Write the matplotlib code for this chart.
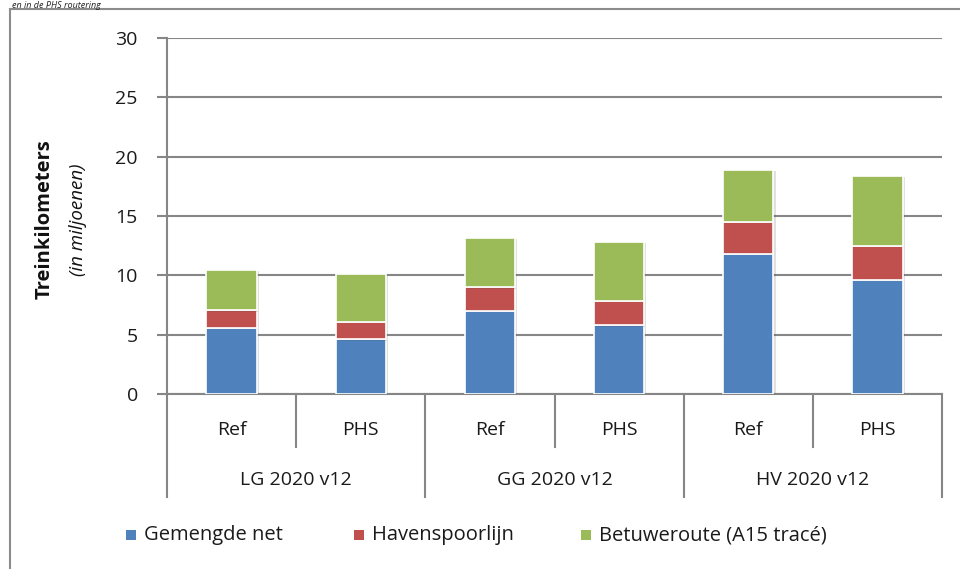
import matplotlib
matplotlib.use("Agg")
import matplotlib.pyplot as plt
from matplotlib.lines import Line2D
from matplotlib.patches import Rectangle
import matplotlib.patheffects as pe
import numpy as np

# ---- data ----
scenarios = ["LG 2020 v12", "GG 2020 v12", "HV 2020 v12"]
variants = ["Ref", "PHS"]
series_names = ["Gemengde net", "Havenspoorlijn", "Betuweroute (A15 tracé)"]
gemengde = [5.6, 4.6, 7.0, 5.8, 11.8, 9.6]
haven = [1.45, 1.5, 2.0, 2.05, 2.7, 2.9]
betuwe = [3.4, 4.0, 4.15, 4.95, 4.4, 5.9]
yticks = [0, 5, 10, 15, 20, 25, 30]

colors = ["#4F81BD", "#C0504D", "#9BBB59"]
grid_col = "#868686"
txt_col = "#1a1a1a"

plt.rcParams['font.family'] = ['Open Sans', 'DejaVu Sans']

W, H = 960, 569
fig = plt.figure(figsize=(W / 100, H / 100), dpi=100)

left, right, y0, y30 = 167, 942, 394, 38
ax = fig.add_axes([left / W, (H - y0) / H, (right - left) / W, (y0 - y30) / H])

x = np.arange(len(gemengde))
bottoms = np.zeros(len(gemengde))
handles = []
shadow = [pe.SimplePatchShadow(offset=(1.5, -1.0), alpha=0.18, shadow_rgbFace="#555555"), pe.Normal()]
for vals, col, name in zip([gemengde, haven, betuwe], colors, series_names):
    b = ax.bar(x, vals, width=0.39, bottom=bottoms, color=col, edgecolor="white",
               linewidth=1.2, zorder=3, label=name)
    for p in b:
        p.set_path_effects(shadow)
    handles.append(b)
    bottoms = bottoms + np.array(vals)

ax.set_xlim(-0.5, len(gemengde) - 0.5)
ax.set_ylim(0, 30)
ax.set_yticks(yticks)
ax.set_yticklabels([str(t) for t in yticks], fontsize=14, color=txt_col)
ax.yaxis.grid(True, color=grid_col, linewidth=1.5, zorder=0)
ax.set_axisbelow(True)
ax.tick_params(axis="y", length=7, width=1.5, color=grid_col, pad=14)
ax.set_xticks([])
for s in ["top", "right"]:
    ax.spines[s].set_visible(False)
for s in ["left", "bottom"]:
    ax.spines[s].set_color(grid_col)
    ax.spines[s].set_linewidth(1.5)

# category axis separators
trans = ax.get_xaxis_transform()
axh = y0 - y30
inner_y = -(447 - y0) / axh
outer_y = -(497 - y0) / axh
for xi in [0.5, 2.5, 4.5]:
    ax.add_line(Line2D([xi, xi], [0, inner_y], transform=trans, color=grid_col, lw=1.5, clip_on=False))
for xi in [-0.5, 1.5, 3.5, 5.5]:
    ax.add_line(Line2D([xi, xi], [0, outer_y], transform=trans, color=grid_col, lw=1.5, clip_on=False))

lab_y1 = -(430 - y0) / axh
lab_y2 = -(480 - y0) / axh
for i in range(len(gemengde)):
    ax.text(i, lab_y1, variants[i % 2], transform=trans, ha="center", va="center",
            fontsize=14, color=txt_col)
for g, name in enumerate(scenarios):
    ax.text(2 * g + 0.5, lab_y2, name, transform=trans, ha="center", va="center",
            fontsize=14, color=txt_col)

# y-label
fig.text(45 / W, 1 - 219 / H, "Treinkilometers", rotation=90, ha="center", va="center",
         fontsize=14.5, fontweight="bold", color="#111111")
fig.text(78 / W, 1 - 220 / H, "(in miljoenen)", rotation=90, ha="center", va="center",
         fontsize=13.5, fontstyle="italic", color="#111111")

# legend (placed item by item to match reference spacing)
leg_sq_x = [126, 354, 581]
leg_y = 535
sq = 10
for sx, col, name in zip(leg_sq_x, colors, series_names):
    fig.add_artist(Rectangle(((sx) / W, (H - leg_y - sq / 2) / H), sq / W, sq / H,
                             transform=fig.transFigure, facecolor=col, edgecolor="none"))
    fig.text((sx + sq + 8) / W, 1 - leg_y / H, name, ha="left", va="center",
             fontsize=14.5, color=txt_col)

# outer frame (left and top lines)
fig.add_artist(Line2D([10 / W, 10 / W], [0, 1 - 9 / H], transform=fig.transFigure,
                      color="#8c8c8c", lw=1.5))
fig.add_artist(Line2D([10 / W, 1], [1 - 9 / H, 1 - 9 / H], transform=fig.transFigure,
                      color="#8c8c8c", lw=1.5))

# caption fragment at very top
fig.text(12 / W, 1 - 1 / H, "en in de PHS routering", ha="left", va="top",
         fontsize=6.5, fontstyle="italic", color="#222222")

fig.savefig("out.png", dpi=100)
